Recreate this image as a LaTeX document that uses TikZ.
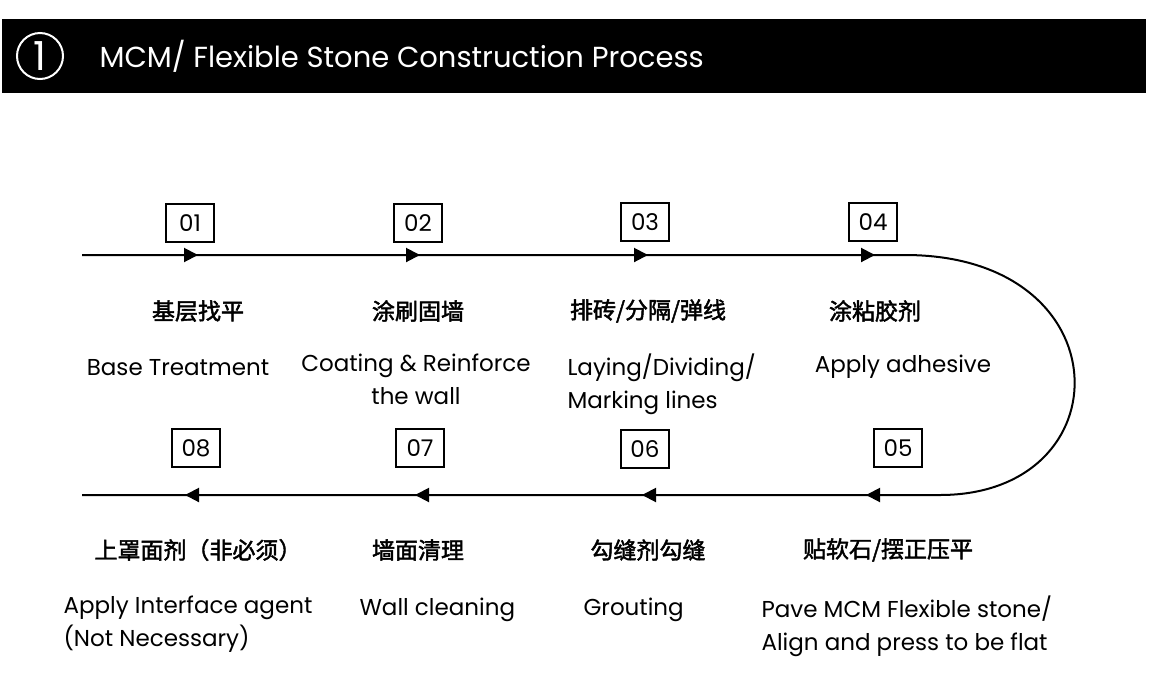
\documentclass[tikz,border=0pt]{standalone}
\usepackage{fontspec}
\setmainfont{Poppins}
\newfontfamily\cjk{Noto Sans CJK SC}[FakeBold=2]
\usetikzlibrary{arrows.meta}
\begin{document}
\begin{tikzpicture}[x=1pt,y=-1pt,
  numbox/.style={draw,line width=1.5pt,minimum width=48pt,minimum height=38pt,font=\fontsize{23}{24}\selectfont},
  zh/.style={font=\cjk\fontsize{23}{26}\selectfont},
  en/.style={font=\fontsize{23}{33}\selectfont,align=center},
  enl/.style={font=\fontsize{23}{33}\selectfont,align=left,anchor=west},
  flow/.style={line width=2pt},
  tip/.style={line width=2pt,-{Triangle[length=14pt,width=14pt]}}]
\useasboundingbox (0,0) rectangle (1156,697);
\fill (2,19) rectangle (1146,93);
\node[draw=white,line width=2pt,circle,minimum size=46pt,inner sep=0pt,text=white,font=\fontsize{40}{40}\selectfont] (c1) at (40,56) {1};
\node[anchor=west,text=white,font=\fontsize{29}{32}\selectfont] (title) at (96,56) {MCM/ Flexible Stone Construction Process};
% flow line
\coordinate (s) at (82,255);
\coordinate (t) at (905,255);
\coordinate (b) at (940,495);
\coordinate (e) at (82,495);
\draw[flow] (s) -- (t) .. controls (1125,255) and (1125,495) .. (b) -- (e);
\foreach \x in {198,420,648,875}{\draw[tip] (\x-14,255) -- (\x,255);}
\foreach \x in {185,415,642,866}{\draw[tip] (\x+14,495) -- (\x,495);}
% boxes
\node[numbox] (n1) at (190,223) {01};
\node[numbox] (n2) at (418,223) {02};
\node[numbox] (n3) at (645,222) {03};
\node[numbox] (n4) at (873,222) {04};
\node[numbox] (n8) at (196,448) {08};
\node[numbox] (n7) at (420,448) {07};
\node[numbox] (n6) at (645,449) {06};
\node[numbox] (n5) at (898,448) {05};
% top labels
\node[zh] (z1) at (198,311) {基层找平};
\node[zh] (z2) at (418,311) {涂刷固墙};
\node[zh] (z3) at (648,311) {排砖/分隔/弹线};
\node[zh] (z4) at (875,311) {涂粘胶剂};
\node[en] (e1) at (178,368) {Base Treatment};
\node[en,anchor=north] (e2) at (416,350) {Coating \& Reinforce\\the wall};
\node[enl,anchor=north west] (e3) at (564,350) {Laying/Dividing/\\Marking lines};
\node[en] (e4) at (903,367) {Apply adhesive};
% bottom labels
\node[zh] (z8) at (198,550) {上罩面剂（非必须）};
\node[zh] (z7) at (418,550) {墙面清理};
\node[zh] (z6) at (648,550) {勾缝剂勾缝};
\node[zh] (z5) at (888,550) {贴软石/摆正压平};
\node[enl,anchor=north west] (e8) at (60,592) {Apply Interface agent\\(Not Necessary)};
\node[enl] (e7) at (356,610) {Wall cleaning};
\node[enl] (e6) at (580,610) {Grouting};
\node[enl,anchor=north west] (e5) at (758,592) {Pave MCM Flexible stone/\\Align and press to be flat};
\end{tikzpicture}
\end{document}
